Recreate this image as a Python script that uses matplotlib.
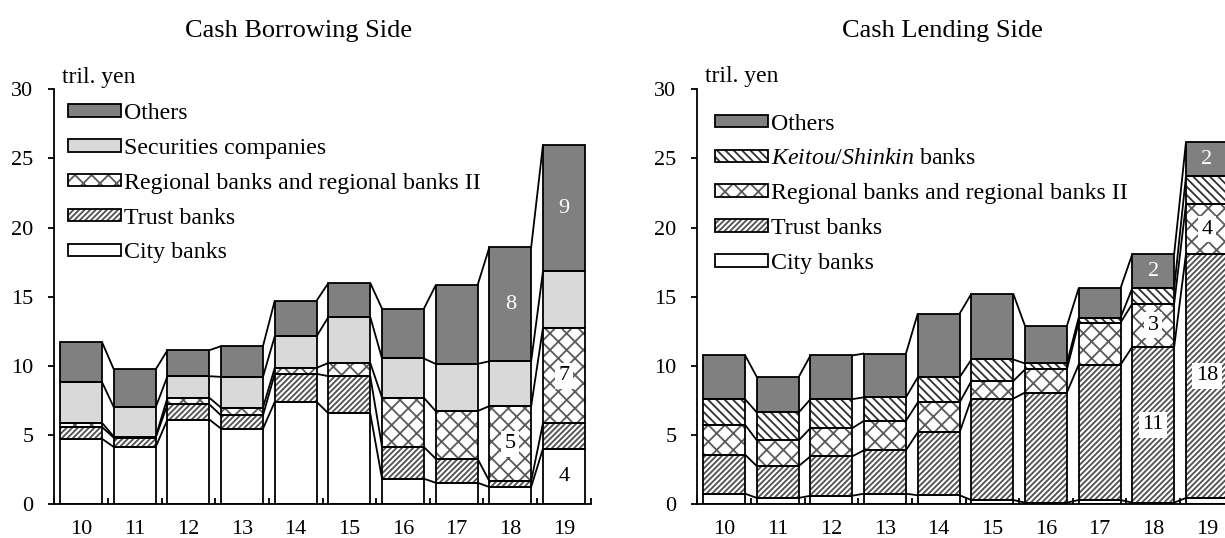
import numpy as np
import matplotlib.pyplot as plt
from matplotlib.patches import Patch

plt.rcParams['font.family'] = 'Liberation Serif'
plt.rcParams['mathtext.fontset'] = 'custom'
plt.rcParams['mathtext.rm'] = 'Liberation Serif'
plt.rcParams['mathtext.it'] = 'Liberation Serif:italic'
plt.rcParams['hatch.linewidth'] = 1.3

years = ['10', '11', '12', '13', '14', '15', '16', '17', '18', '19']

# Cash borrowing side, tril. yen (stacked bottom to top)
borrow_city = [4.74, 4.14, 6.13, 5.46, 7.41, 6.57, 1.85, 1.56, 1.25, 4.02]
borrow_trust = [0.84, 0.67, 1.09, 0.96, 2.02, 2.69, 2.29, 1.74, 0.43, 1.83]
borrow_regional = [0.31, 0.08, 0.48, 0.56, 0.43, 0.96, 3.56, 3.44, 5.42, 6.90]
borrow_securities = [2.94, 2.12, 1.56, 2.23, 2.29, 3.32, 2.84, 3.41, 3.24, 4.09]
borrow_others = [2.89, 2.74, 1.88, 2.22, 2.57, 2.46, 3.60, 5.68, 8.23, 9.14]

# Cash lending side, tril. yen (stacked bottom to top)
lend_city = [0.77, 0.46, 0.62, 0.77, 0.65, 0.31, 0.12, 0.31, 0.12, 0.46]
lend_trust = [2.82, 2.30, 2.85, 3.14, 4.55, 7.33, 7.96, 9.78, 11.26, 17.63]
lend_regional = [2.16, 1.86, 2.04, 2.13, 2.16, 1.27, 1.67, 3.04, 3.12, 3.60]
lend_keitou = [1.85, 2.02, 2.09, 1.70, 1.82, 1.56, 0.43, 0.36, 1.12, 2.01]
lend_others = [3.18, 2.56, 3.16, 3.16, 4.60, 4.75, 2.71, 2.13, 2.47, 2.47]

# segments carrying a value label: (year index, series index)
borrow_labelled = [(8, 2), (8, 4), (9, 0), (9, 2), (9, 4)]
lend_labelled = [(8, 1), (8, 2), (8, 4), (9, 1), (9, 2), (9, 4)]

KEITOU = r'$\it{Keitou/Shinkin}$ banks'
STYLES = {
    'City banks': ('white', None, 'none'),
    'Trust banks': ('white', '//////', '#505050'),
    'Regional banks and regional banks II': ('white', 'xx', '#5a5a5a'),
    'Securities companies': ('#d9d9d9', None, 'none'),
    KEITOU: ('white', '\\\\\\\\', '#303030'),
    'Others': ('#808080', None, 'none'),
}

W = 0.78
LW = 1.3
FS = 16


def draw_panel(ax, series, labelled, legend_anchor):
    x = np.arange(len(years))
    bottom = np.zeros(len(years))
    tops = []
    bottoms = []
    for name, vals in series:
        face, hatch, hcol = STYLES[name]
        vals = np.array(vals)
        ax.bar(x, vals, W, bottom=bottom, color=face, edgecolor=hcol,
               hatch=hatch, linewidth=0, zorder=2)
        ax.bar(x, vals, W, bottom=bottom, fill=False, edgecolor='black',
               linewidth=LW, zorder=3)
        bottoms.append(bottom.copy())
        bottom = bottom + vals
        tops.append(bottom.copy())

    # series lines between neighbouring bars
    for top in tops:
        for i in range(len(x) - 1):
            ax.plot([x[i] + W / 2, x[i + 1] - W / 2], [top[i], top[i + 1]],
                    color='black', lw=LW, zorder=3, solid_capstyle='butt')

    for i, k in labelled:
        v = series[k][1][i]
        yc = bottoms[k][i] + v / 2
        if series[k][0] == 'Others':
            ax.text(x[i], yc, f'{round(v)}', ha='center', va='center',
                    color='white', fontsize=FS, zorder=5)
        else:
            ax.text(x[i], yc, f'{round(v)}', ha='center', va='center',
                    color='black', fontsize=FS, zorder=5,
                    bbox=dict(facecolor='white', edgecolor='none', pad=2.5))

    ax.set_xlim(-0.5, 9.5)
    ax.set_ylim(0, 30)
    ax.set_yticks(range(0, 31, 5))
    ax.set_xticks(x)
    ax.set_xticklabels(years)
    ax.set_xticks(np.arange(-0.5, 10, 1), minor=True)
    ax.tick_params(axis='x', which='major', length=0, pad=11, labelsize=FS)
    ax.tick_params(axis='x', which='minor', direction='in', length=4, width=LW)
    ax.tick_params(axis='y', direction='out', length=4, width=LW, pad=11,
                   labelsize=FS)
    for s in ['top', 'right']:
        ax.spines[s].set_visible(False)
    for s in ['left', 'bottom']:
        ax.spines[s].set_linewidth(LW)

    handles = []
    names = []
    for name, _ in series[::-1]:
        face, hatch, hcol = STYLES[name]
        handles.append((Patch(facecolor=face, edgecolor=hcol, hatch=hatch, lw=0),
                        Patch(fill=False, edgecolor='black', lw=LW)))
        names.append(name)
    ax.legend(handles, names, loc='upper left', bbox_to_anchor=legend_anchor,
              bbox_transform=fig.transFigure, frameon=False, fontsize=17.2,
              borderpad=0, borderaxespad=0, handlelength=2.2,
              handleheight=0.42, handletextpad=0.15, labelspacing=0.58)


fig = plt.figure(figsize=(12.25, 5.38), dpi=100)
ax_l = fig.add_axes([54.3 / 1225, 1 - 504.3 / 538, 536.4 / 1225, 415 / 538])
ax_r = fig.add_axes([697.3 / 1225, 1 - 504.3 / 538, 536.4 / 1225, 415 / 538])

draw_panel(ax_l, [('City banks', borrow_city),
                  ('Trust banks', borrow_trust),
                  ('Regional banks and regional banks II', borrow_regional),
                  ('Securities companies', borrow_securities),
                  ('Others', borrow_others)],
           borrow_labelled, (68 / 1225, 1 - 103 / 538))

draw_panel(ax_r, [('City banks', lend_city),
                  ('Trust banks', lend_trust),
                  ('Regional banks and regional banks II', lend_regional),
                  (KEITOU, lend_keitou),
                  ('Others', lend_others)],
           lend_labelled, (715 / 1225, 1 - 113.5 / 538))

fig.text(299 / 1225, 1 - 37 / 538, 'Cash Borrowing Side', ha='center',
         va='baseline', fontsize=19)
fig.text(942 / 1225, 1 - 37 / 538, 'Cash Lending Side', ha='center',
         va='baseline', fontsize=19)
fig.text(62 / 1225, 1 - 83 / 538, 'tril. yen', ha='left', va='baseline',
         fontsize=17)
fig.text(705 / 1225, 1 - 82 / 538, 'tril. yen', ha='left', va='baseline',
         fontsize=17)

fig.savefig('out.png', dpi=100)
